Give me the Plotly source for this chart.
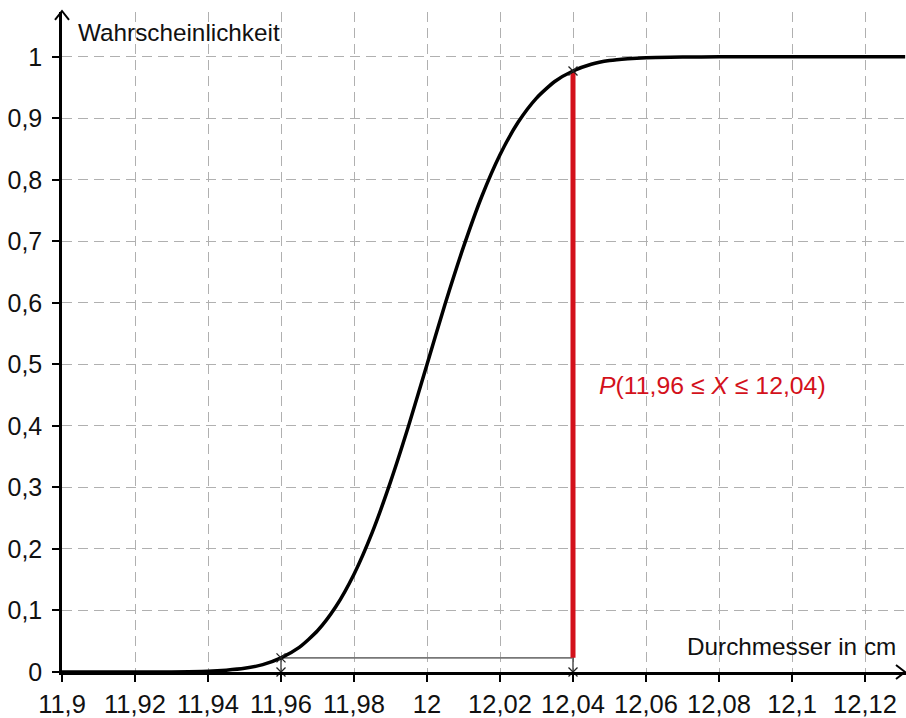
import plotly.graph_objects as go

# Values (cumulative probability curve)
x_vals = [11.90, 11.92, 11.93, 11.94, 11.945, 11.95, 11.955, 11.96, 11.965, 11.97, 11.975,
          11.98, 11.985, 11.99, 11.995, 12.00, 12.005, 12.01, 12.015, 12.02, 12.025,
          12.03, 12.035, 12.04, 12.045, 12.05, 12.055, 12.06, 12.07, 12.08, 12.10, 12.131]
p_vals = [0.000, 0.000, 0.0002, 0.0013, 0.003, 0.006, 0.012, 0.023, 0.040, 0.067, 0.106,
          0.159, 0.227, 0.309, 0.401, 0.500, 0.599, 0.691, 0.773, 0.841, 0.894,
          0.933, 0.960, 0.977, 0.988, 0.994, 0.997, 0.9987, 0.9998, 1.000, 1.000, 1.000]

x_low, x_high = 11.96, 12.04
p_low, p_high = 0.023, 0.977

x_ticks = [11.90, 11.92, 11.94, 11.96, 11.98, 12.00, 12.02, 12.04, 12.06, 12.08, 12.10, 12.12]
x_labels = ["11,9", "11,92", "11,94", "11,96", "11,98", "12", "12,02", "12,04", "12,06", "12,08", "12,1", "12,12"]
y_ticks = [0, 0.1, 0.2, 0.3, 0.4, 0.5, 0.6, 0.7, 0.8, 0.9, 1.0]
y_labels = ["0", "0,1", "0,2", "0,3", "0,4", "0,5", "0,6", "0,7", "0,8", "0,9", "1"]

FONT = "Liberation Sans, Arial, sans-serif"
RED = "#d3111b"

fig = go.Figure()

# helper lines
fig.add_trace(go.Scatter(x=[x_low, x_low], y=[0, p_low], mode="lines",
                         line=dict(color="#333333", width=1.3), hoverinfo="skip"))
fig.add_trace(go.Scatter(x=[x_high, x_high], y=[0, p_high], mode="lines",
                         line=dict(color="#333333", width=1.3), hoverinfo="skip"))
fig.add_trace(go.Scatter(x=[x_low, x_high], y=[p_low, p_low], mode="lines",
                         line=dict(color="#777777", width=1.6), hoverinfo="skip"))
# red probability bar
fig.add_trace(go.Scatter(x=[x_high, x_high], y=[p_low, p_high], mode="lines",
                         line=dict(color=RED, width=5), hoverinfo="skip"))
# curve
fig.add_trace(go.Scatter(x=x_vals, y=p_vals, mode="lines",
                         line=dict(color="black", width=3.5, shape="spline", smoothing=0.6),
                         hoverinfo="skip"))
# cross markers
fig.add_trace(go.Scatter(x=[x_low, x_low, x_high, x_high], y=[0, p_low, 0, p_high], mode="markers",
                         marker=dict(symbol="x-thin", size=9, line=dict(color="#222222", width=1.3)),
                         cliponaxis=False, hoverinfo="skip"))

fig.add_annotation(x=12.0466, y=0.466, xref="x", yref="y", xanchor="left", yanchor="middle",
                   text="<i>P</i>(11,96 ≤ <i>X</i> ≤ 12,04)", showarrow=False,
                   font=dict(family=FONT, size=24.8, color=RED))
fig.add_annotation(x=0.0165, y=1.04, xref="paper", yref="y", xanchor="left", yanchor="middle",
                   text="Wahrscheinlichkeit", showarrow=False,
                   font=dict(family=FONT, size=24.3, color="#111111"))
fig.add_annotation(x=0.99, y=0.042, xref="paper", yref="y", xanchor="right", yanchor="middle",
                   text="Durchmesser in cm", showarrow=False,
                   font=dict(family=FONT, size=24.3, color="#111111"))

# arrow heads (open chevrons) in pixel-like paper coordinates
W, H = 844, 662
fig.add_shape(type="path", xref="paper", yref="paper",
              path=f"M {-7/W} {1-8/H} L 0 {1+1/H} L {7/W} {1-8/H}",
              line=dict(color="black", width=2))
fig.add_shape(type="path", xref="paper", yref="paper",
              path=f"M {1-10/W} {7/H} L {1-1/W} 0 L {1-10/W} {-7/H}",
              line=dict(color="black", width=2))

fig.update_layout(
    width=906, height=718,
    margin=dict(l=62, r=0, t=12, b=44),
    paper_bgcolor="white", plot_bgcolor="white",
    showlegend=False,
    font=dict(family=FONT, size=24, color="#111111"),
)
fig.update_xaxes(range=[11.9, 11.9 + 844 / 3650], tickvals=x_ticks, ticktext=x_labels,
                 showline=True, linecolor="black", linewidth=2.5,
                 ticks="outside", ticklen=7, tickwidth=2, tickcolor="black",
                 showgrid=True, gridcolor="#b0b0b0", gridwidth=1.3, griddash="10px,6px",
                 zeroline=False, tickfont=dict(size=25.5), ticklabelstandoff=1)
fig.update_yaxes(range=[0, 662 / 617], tickvals=y_ticks, ticktext=y_labels,
                 showline=True, linecolor="black", linewidth=2.5,
                 ticks="outside", ticklen=7, tickwidth=2, tickcolor="black",
                 showgrid=True, gridcolor="#b0b0b0", gridwidth=1.3, griddash="10px,6px",
                 zeroline=False, tickfont=dict(size=25), ticklabelstandoff=5)

fig.write_html("out.html", config={"displayModeBar": False},
               post_script="document.body.style.margin='0';document.body.style.overflow='hidden';")
